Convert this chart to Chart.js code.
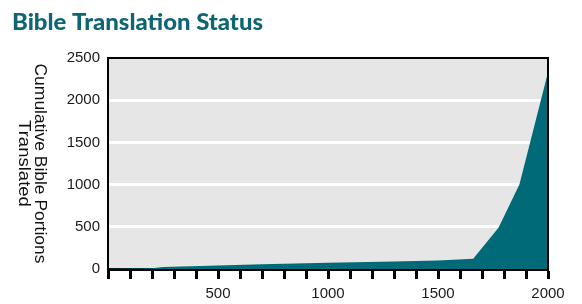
<!DOCTYPE html>
<html>
<head>
<meta charset="utf-8">
<script src="https://cdn.jsdelivr.net/npm/chart.js@4"></script>
<style>
html,body{margin:0;padding:0;background:#fff;}
#wrap{position:relative;width:582px;height:304px;}
canvas{display:block;}
</style>
</head>
<body>
<div id="wrap"><canvas id="c" width="582" height="304"></canvas></div>
<script>
const chartTitle = 'Bible Translation Status';
const yTitleLines = ['Cumulative Bible Portions', 'Translated'];
const years    = [0, 200, 250, 500, 700, 1000, 1300, 1500, 1660, 1775, 1870, 2000];
const portions = [3, 10,  25,  40,  55,  75,   90,   100,  122,  490,  1000, 2330];
const xTickLabels = [500, 1000, 1500, 2000];
const yTickValues = [0, 500, 1000, 1500, 2000, 2500];

const TEAL = '#006a78';
const numFont = "'Liberation Sans', Arial, sans-serif";

const decor = {
  id: 'decor',
  beforeDraw(chart) {
    const {ctx, chartArea: a} = chart;
    ctx.save();
    ctx.fillStyle = '#e6e6e6';
    ctx.fillRect(a.left, a.top, a.right - a.left, a.bottom - a.top);
    ctx.restore();
  },
  afterDraw(chart) {
    const {ctx, chartArea: a} = chart;
    ctx.save();
    ctx.strokeStyle = '#000';
    ctx.lineWidth = 2;
    ctx.beginPath();
    ctx.moveTo(a.left - 1, a.top);
    ctx.lineTo(a.right, a.top);
    ctx.lineTo(a.right, a.bottom);
    ctx.stroke();
    // title
    ctx.fillStyle = '#0f6672';
    ctx.font = "900 23px Lato, 'Open Sans', sans-serif";
    ctx.textBaseline = 'alphabetic';
    const w = ctx.measureText(chartTitle).width;
    const target = 251;
    ctx.translate(12, 30);
    ctx.scale(target / w, 1);
    ctx.fillText(chartTitle, 0, 0);
    ctx.restore();
    // y title, rotated clockwise
    ctx.save();
    ctx.fillStyle = '#111';
    ctx.font = "17px 'Liberation Sans', Arial, sans-serif";
    ctx.textAlign = 'center';
    ctx.textBaseline = 'middle';
    const cy = (a.top + a.bottom) / 2;
    const xs = [40, 24];
    yTitleLines.forEach((t, i) => {
      ctx.save();
      ctx.translate(xs[i], cy);
      ctx.rotate(Math.PI / 2);
      const tw = ctx.measureText(t).width;
      const scale = i === 0 ? 200 / tw : 1.09;
      ctx.scale(scale, 1);
      ctx.fillText(t, 0, 0);
      ctx.restore();
    });
    ctx.restore();
  }
};

new Chart(document.getElementById('c'), {
  type: 'line',
  data: {
    datasets: [{
      data: years.map((y, i) => ({x: y, y: portions[i]})),
      fill: 'origin',
      backgroundColor: TEAL,
      borderWidth: 0,
      borderColor: TEAL,
      pointRadius: 0,
      tension: 0
    }]
  },
  options: {
    responsive: false,
    animation: false,
    events: [],
    layout: {padding: {left: 0, top: 58, right: 34, bottom: 0}},
    plugins: {legend: {display: false}, title: {display: false}, tooltip: {enabled: false}},
    scales: {
      x: {
        type: 'linear', min: 0, max: 2000, z: 1,
        afterFit(s) { s.height = 35; },
        border: {color: '#000', width: 3},
        grid: {drawOnChartArea: false, drawTicks: true, tickLength: 10, tickWidth: 3, tickColor: '#000'},
        ticks: {
          stepSize: 100, autoSkip: false, maxRotation: 0, padding: 6,
          color: '#1a1a1a', font: {family: numFont, size: 15},
          callback: v => xTickLabels.includes(v) ? String(v) : ''
        }
      },
      y: {
        min: 0, max: 2500, z: 1,
        afterFit(s) { s.width = 108; },
        border: {color: '#000', width: 2},
        grid: {
          color: c => (c.tick && c.tick.value > 0 && c.tick.value < 2500) ? '#fff' : 'rgba(0,0,0,0)',
          lineWidth: 3, tickLength: 6, drawTicks: true
        },
        ticks: {
          stepSize: 500, padding: 2, color: '#1a1a1a',
          font: {family: numFont, size: 15},
          callback: v => yTickValues.includes(v) ? String(v) : ''
        }
      }
    }
  },
  plugins: [decor]
});
</script>
</body>
</html>
